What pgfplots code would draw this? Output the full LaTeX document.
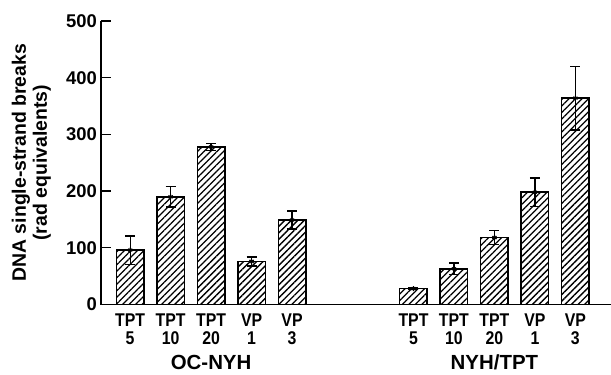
\documentclass[border=0pt]{standalone}
\usepackage{fontspec}
\setmainfont{Liberation Sans}
\usepackage{graphicx}
\usepackage{pgfplots}
\pgfplotsset{compat=1.18}
\usetikzlibrary{patterns.meta}
\newcommand\cf{\bfseries\fontsize{18.5}{18.5}\selectfont}
\newcommand\cl[2]{\scalebox{0.86}[1]{\cf #1}\\[-0.5bp]\scalebox{0.86}[1]{\cf #2}}
\begin{document}
\begin{tikzpicture}
\begin{axis}[
  scale only axis,
  width=510bp, height=283.5bp,
  xmin=-0.72, xmax=11.88,
  ymin=0, ymax=500,
  axis x line=bottom, axis y line=left,
  axis line style={-, line width=1.6bp},
  clip=false,
  ytick={0,100,200,300,400,500},
  tick align=inside,
  major tick length=10bp,
  tick style={line width=1.3bp, black},
  xtick={0,1,2,3,4,7,8,9,10,11},
  xticklabels={\cl{TPT}{5},\cl{TPT}{10},\cl{TPT}{20},\cl{VP}{1},\cl{VP}{3},\cl{TPT}{5},\cl{TPT}{10},\cl{TPT}{20},\cl{VP}{1},\cl{VP}{3}},
  xtick style={draw=none},
  x tick label style={font=\cf, align=center, inner sep=0pt, anchor=north, yshift=-9bp},
  y tick label style={font=\bfseries\fontsize{18.5}{20}\selectfont, inner sep=0pt, xshift=-4bp},
  /pgf/number format/assume math mode=true,
  ylabel={DNA single-strand breaks\\(rad equivalents)},
  ylabel style={font=\bfseries\fontsize{19.5}{21}\selectfont, align=center, at={(axis description cs:-0.098,0.5)}, anchor=south, inner sep=0pt},
]
\addplot[ybar, bar width=27.5bp, draw=black, line width=1.5bp,
  pattern={Lines[angle=45,distance=4.6bp,line width=1.3bp]},
  mark=asterisk, mark size=2.5bp, mark options={line width=1.2bp, solid},
  error bars/.cd, y dir=both, y explicit,
  error bar style={line width=1.2bp, black},
  error mark options={rotate=90, mark size=5bp, line width=1.4bp, black}]
  coordinates {
  (0,96) +- (0,25)
  (1,190) +- (0,18)
  (2,278) +- (0,6)
  (3,76) +- (0,8)
  (4,149) +- (0,16)
  (7,28) +- (0,2)
  (8,63) +- (0,10)
  (9,118) +- (0,12)
  (10,198) +- (0,25)
  (11,364) +- (0,56)
  };
\node[font=\bfseries\fontsize{20.5}{21}\selectfont, anchor=base, inner sep=0pt] at (axis cs:2,0) [yshift=-65bp] {OC-NYH};
\node[font=\bfseries\fontsize{20.5}{21}\selectfont, anchor=base, inner sep=0pt] at (axis cs:9,0) [yshift=-65bp] {NYH/TPT};
\end{axis}
\pgfresetboundingbox
\path (-101bp,-70.5bp) rectangle (510bp,304.5bp);
\end{tikzpicture}
\end{document}
